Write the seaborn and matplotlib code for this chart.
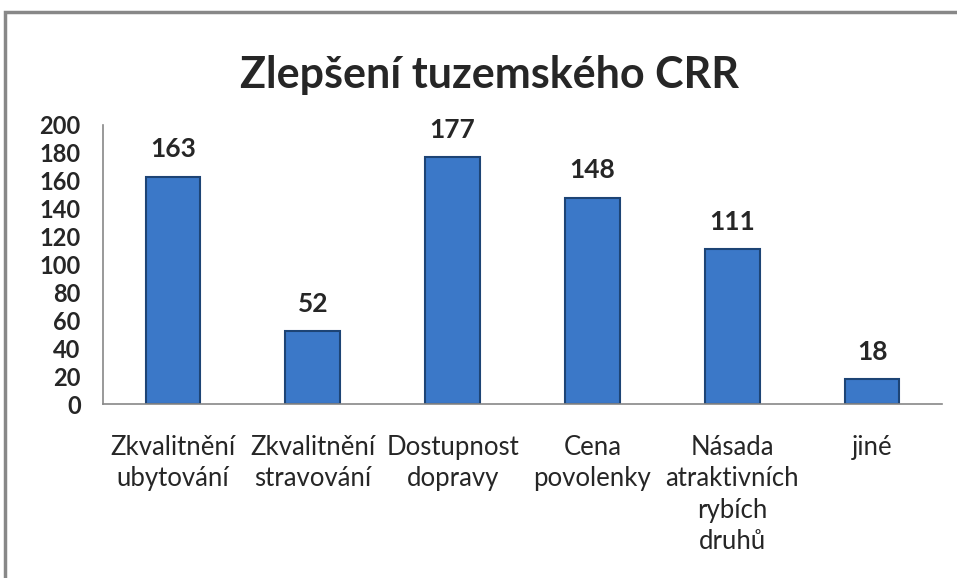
import matplotlib
matplotlib.use("Agg")
import matplotlib.pyplot as plt
import seaborn as sns
import numpy as np
from matplotlib.patches import Rectangle

categories = ["Zkvalitnění\nubytování", "Zkvalitnění\nstravování", "Dostupnost\ndopravy",
              "Cena\npovolenky", "Násada\natraktivních\nrybích\ndruhů", "jiné"]
values = [163, 52, 177, 148, 111, 18]
yticks = [0, 20, 40, 60, 80, 100, 120, 140, 160, 180, 200]
title = "Zlepšení tuzemského CRR"

sns.set_style("white")
plt.rcParams['font.family'] = ['Lato', 'DejaVu Sans']

W, H = 957, 578
fig = plt.figure(figsize=(W/100, H/100), dpi=100)
ax = fig.add_axes([103/W, 1-404/H, (942-103)/W, (404-125)/H])

sns.barplot(x=categories, y=values, color="#3b78c8", width=0.39,
            edgecolor="#1d4475", linewidth=1.5, saturation=1, ax=ax)

ax.set_xlim(-0.5, len(categories)-0.5)
ax.set_ylim(0, 200)
ax.set_yticks(yticks)
ax.set_yticklabels([str(v) for v in yticks], fontsize=17, fontweight="bold")
ax.tick_params(axis="y", length=6, color="#888888", width=1.2, pad=10)
ax.tick_params(axis="x", which="major", length=0, pad=22, labelsize=18.5)
ax.set_xticks(np.arange(-0.5, len(categories), 1.0), minor=True)
ax.tick_params(axis="x", which="minor", length=9, color="#888888", width=1.2)
for s in ["top", "right"]:
    ax.spines[s].set_visible(False)
for s in ["left", "bottom"]:
    ax.spines[s].set_color("#888888")
    ax.spines[s].set_linewidth(1.2)
ax.set_xlabel("")
ax.set_ylabel("")

for i, v in enumerate(values):
    ax.annotate(str(v), (i, v), xytext=(0, 11), textcoords="offset points",
                ha="center", va="bottom", fontsize=19, fontweight="bold")

for lbl in ax.get_xticklabels():
    lbl.set_linespacing(1.33)

fig.text(490/W, 1-75/H, title, ha="center", va="center", fontsize=31, fontweight="bold")

fig.patches.append(Rectangle((5/W, -0.2), 1.2, 1-12/H+0.2, transform=fig.transFigure,
                             fill=False, edgecolor="#888888", linewidth=2.5))

fig.savefig("out.png", dpi=100)
